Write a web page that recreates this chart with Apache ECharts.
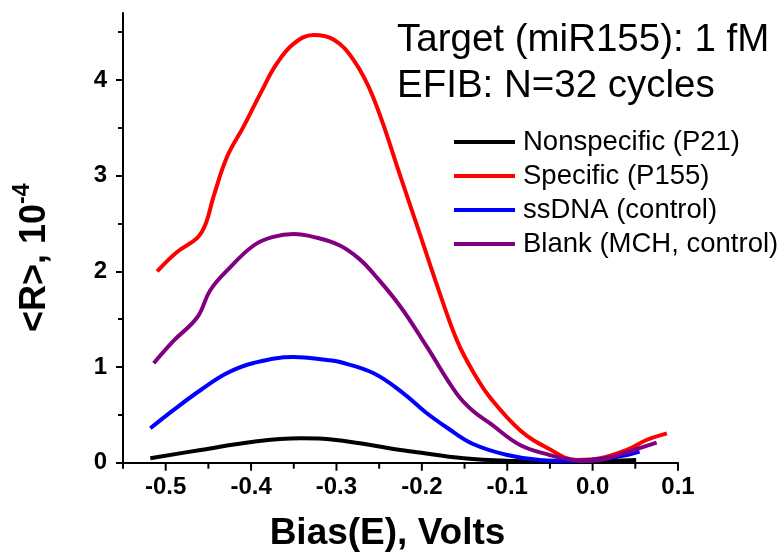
<!DOCTYPE html>
<html>
<head>
<meta charset="utf-8">
<script src="https://cdn.jsdelivr.net/npm/echarts@6/dist/echarts.min.js"></script>
<style>
  html, body { margin: 0; padding: 0; background: #ffffff; }
  #chart { width: 783px; height: 559px; }
</style>
</head>
<body>
<div id="chart"></div>
<script>
// Mean response <R> (units of 1e-4) against applied bias E (V)
const seriesNames = ['Nonspecific (P21)', 'Specific (P155)', 'ssDNA (control)', 'Blank (MCH, control)'];
const seriesColors = ['#000000', '#ff0000', '#0000ff', '#800080'];

const nonspecific = [
  [-0.518, 0.046], [-0.459, 0.133], [-0.397, 0.220], [-0.342, 0.255], [-0.303, 0.240],
  [-0.225, 0.133], [-0.210, 0.115], [-0.151, 0.046], [-0.093, 0.018], [-0.034, 0.010],
  [0.024, 0.020], [0.051, 0.028]
];
const specific = [
  [-0.510, 2.00], [-0.487, 2.20], [-0.463, 2.35], [-0.453, 2.50], [-0.444, 2.78],
  [-0.428, 3.20], [-0.409, 3.51], [-0.389, 3.86], [-0.370, 4.17], [-0.350, 4.38],
  [-0.327, 4.47], [-0.303, 4.42], [-0.280, 4.21], [-0.257, 3.82], [-0.225, 2.99],
  [-0.202, 2.38], [-0.179, 1.77], [-0.158, 1.26], [-0.138, 0.92], [-0.120, 0.68],
  [-0.085, 0.34], [-0.053, 0.154], [-0.018, 0.028], [0.009, 0.046], [0.040, 0.133],
  [0.063, 0.237], [0.087, 0.307]
];
const ssDNA = [
  [-0.518, 0.36], [-0.491, 0.55], [-0.459, 0.76], [-0.428, 0.937], [-0.397, 1.042],
  [-0.350, 1.105], [-0.311, 1.073], [-0.296, 1.052], [-0.257, 0.937], [-0.222, 0.728],
  [-0.196, 0.530], [-0.170, 0.363], [-0.140, 0.195], [-0.100, 0.080], [-0.062, 0.028],
  [-0.023, 0.018], [0.016, 0.046], [0.040, 0.080], [0.055, 0.115]
];
const blank = [
  [-0.514, 1.04], [-0.490, 1.28], [-0.463, 1.52], [-0.448, 1.80], [-0.428, 2.01],
  [-0.397, 2.27], [-0.374, 2.36], [-0.350, 2.39], [-0.327, 2.36], [-0.296, 2.27],
  [-0.272, 2.12], [-0.257, 1.98], [-0.225, 1.63], [-0.194, 1.21], [-0.159, 0.72],
  [-0.140, 0.54], [-0.120, 0.41], [-0.085, 0.185], [-0.050, 0.080], [-0.030, 0.040],
  [-0.010, 0.018], [0.010, 0.030], [0.024, 0.063], [0.048, 0.133], [0.075, 0.210]
];
const seriesData = [nonspecific, specific, ssDNA, blank];

const xMajorTicks = [-0.5, -0.4, -0.3, -0.2, -0.1, 0.0, 0.1];
const xMinorTicks = [-0.55, -0.45, -0.35, -0.25, -0.15, -0.05, 0.05];
const yMajorTicks = [0, 1, 2, 3, 4];
const yMinorTicks = [0.5, 1.5, 2.5, 3.5, 4.5];
const annotationLines = ['Target (miR155): 1 fM', 'EFIB: N=32 cycles'];

const FONT = '"Liberation Sans", Arial, Helvetica, sans-serif';
const X_RANGE = [-0.55, 0.1];
const Y_RANGE = [0, 4.7];

const chart = echarts.init(document.getElementById('chart'), null, { renderer: 'canvas' });

function xLabel(v) {
  if (Math.abs(v) < 1e-9) return '0.0';
  return v.toFixed(1);
}

// Axis that only draws a set of tick marks at given values
function tickAxis(range, pos, values, len) {
  return {
    type: 'value', min: range[0], max: range[1], position: pos, offset: 0,
    axisLine: { show: false, onZero: false },
    axisTick: { show: true, inside: false, length: len, lineStyle: { color: '#000', width: 2 }, customValues: values },
    axisLabel: { show: false },
    splitLine: { show: false }
  };
}

const lineSeries = seriesNames.map((name, i) => ({
  name: name, type: 'line', xAxisIndex: 0, yAxisIndex: 0,
  data: seriesData[i], showSymbol: false, symbol: 'none', smooth: 0.4,
  lineStyle: { color: seriesColors[i], width: 4 },
  itemStyle: { color: seriesColors[i] },
  z: 2 + i
}));

const option = {
  backgroundColor: '#ffffff',
  animation: false,
  grid: { left: 123, right: 105, top: 13, bottom: 96.3, containLabel: false, outerBoundsMode: 'none' },
  xAxis: [
    {
      type: 'value', min: X_RANGE[0], max: X_RANGE[1], position: 'bottom',
      axisLine: { show: true, onZero: false, lineStyle: { color: '#000', width: 2 } },
      axisTick: { show: false },
      axisLabel: {
        show: true, customValues: xMajorTicks, formatter: xLabel, margin: 13,
        fontSize: 24, fontWeight: 'bold', fontFamily: FONT, color: '#000'
      },
      splitLine: { show: false },
      name: 'Bias(E), Volts', nameLocation: 'middle', nameGap: 53,
      nameTextStyle: { fontSize: 37, fontWeight: 'bold', fontFamily: FONT, color: '#000', padding: [0, 26, 0, 0] }
    }
  ],
  yAxis: [
    {
      type: 'value', min: Y_RANGE[0], max: Y_RANGE[1], position: 'left',
      axisLine: { show: true, onZero: false, lineStyle: { color: '#000', width: 2 } },
      axisTick: { show: false },
      axisLabel: {
        show: true, customValues: yMajorTicks, margin: 16,
        fontSize: 24, fontWeight: 'bold', fontFamily: FONT, color: '#000'
      },
      splitLine: { show: false },
      name: '{a|<R>, 10}{s|-4}', nameLocation: 'middle', nameGap: 64,
      nameTextStyle: {
        padding: [0, 40, 0, 0],
        rich: {
          a: { fontSize: 36, fontWeight: 'bold', fontFamily: FONT, color: '#000', lineHeight: 48 },
          s: { fontSize: 23, fontWeight: 'bold', fontFamily: FONT, color: '#000', lineHeight: 23, verticalAlign: 'top' }
        }
      }
    },
    tickAxis(Y_RANGE, 'left', yMajorTicks, 7),
    tickAxis(Y_RANGE, 'left', yMinorTicks, 5)
  ],
  legend: {
    orient: 'vertical', left: 454, top: 128, padding: 0,
    itemWidth: 61, itemHeight: 4, itemGap: 6, icon: 'rect',
    textStyle: { fontSize: 27.5, fontFamily: FONT, color: '#000', padding: [0, 0, 0, 3] },
    data: seriesNames
  },
  series: lineSeries
};

chart.setOption(option);

// Bias-axis tick marks, placed through the chart's own x scale
function xTickMarks(values, len) {
  return values.map(v => {
    const p = chart.convertToPixel({ xAxisIndex: 0, yAxisIndex: 0 }, [v, 0]);
    return {
      type: 'line', silent: true, z: 100,
      shape: { x1: p[0], y1: p[1], x2: p[0], y2: p[1] + len },
      style: { stroke: '#000', lineWidth: 2 }
    };
  });
}

const headerText = annotationLines.map((t, i) => ({
  type: 'text', silent: true,
  style: {
    text: t, x: 397, y: 40 + i * 46, align: 'left', verticalAlign: 'middle',
    fontSize: 38.5, fontFamily: FONT, fill: '#000'
  }
}));

chart.setOption({
  graphic: headerText.concat(xTickMarks(xMajorTicks, 8), xTickMarks(xMinorTicks, 6))
});
</script>
</body>
</html>
